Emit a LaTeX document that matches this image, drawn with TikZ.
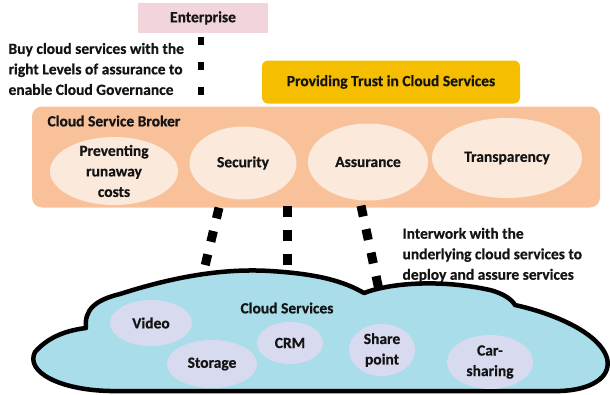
\documentclass[tikz,border=0pt]{standalone}
\usepackage{fontspec}
\setmainfont{Carlito}[BoldFeatures={FakeBold=0.6}]
\usetikzlibrary{calc,shapes.geometric}
\definecolor{entpink}{HTML}{F2D5DB}
\definecolor{trustgold}{HTML}{F6BE00}
\definecolor{brokerpeach}{HTML}{F8C199}
\definecolor{brokercream}{HTML}{FBE9DC}
\definecolor{cloudblue}{HTML}{A9DDEA}
\definecolor{servlilac}{HTML}{D8DAF0}
\definecolor{inkdark}{HTML}{141414}

\begin{document}
\begin{tikzpicture}[x=1pt,y=-1pt,
  every node/.style={font=\bfseries\fontsize{15.5}{20.5}\selectfont, text=inkdark},
  brokeroval/.style={ellipse, fill=brokercream, inner sep=-6pt, align=center},
  servoval/.style={ellipse, fill=servlilac, inner sep=-6pt, align=center},
  squaredash/.style={line width=9pt, dash pattern=on 11pt off 13pt}]
  \useasboundingbox (0,0) rectangle (610,394);

  \node[fill=entpink, minimum width=130pt, minimum height=30pt] (enterprise) at (203,18) {Enterprise};
  \node[anchor=west, align=left] (buytext) at (5,69) {Buy cloud services with the\\right Levels of assurance to\\enable Cloud Governance};
  \coordinate (entend) at (201,96);
  \draw[squaredash, line width=6.5pt, dash pattern=on 8pt off 17pt] ([shift={(-2,4)}]enterprise.south) -- (entend);

  \node[fill=trustgold, rounded corners=6pt, minimum width=258pt, minimum height=43pt] (trust) at (391,82) {Providing Trust in Cloud Services};

  \node[fill=brokerpeach, rounded corners=10pt, minimum width=568pt, minimum height=101pt] (broker) at (316,157) {};
  \node[anchor=west] (brokerlabel) at (44,121) {Cloud Service Broker};
  \node[brokeroval, minimum width=128pt, minimum height=68pt] (prevent) at (114,171) {Preventing\\runaway\\costs};
  \node[brokeroval, minimum width=107pt, minimum height=73pt] (security) at (243,163) {Security};
  \node[brokeroval, minimum width=120pt, minimum height=77pt] (assurance) at (368,162) {Assurance};
  \node[brokeroval, minimum width=150pt, minimum height=80pt] (transparency) at (507,158) {Transparency};

  \draw[fill=cloudblue, line width=4.5pt, line join=round] (35,352)
    .. controls (50,335) and (70,330) .. (86,328)
    .. controls (84,310) and (95,300) .. (120,294)
    .. controls (170,278) and (220,268) .. (270,271)
    .. controls (320,274) and (345,282) .. (364,293)
    .. controls (390,283) and (440,279) .. (490,290)
    .. controls (505,294) and (512,300) .. (515,305)
    .. controls (560,315) and (600,335) .. (607,358)
    .. controls (612,378) and (590,390) .. (560,391)
    -- (110,391)
    .. controls (60,390) and (25,372) .. (35,352) -- cycle;
  \coordinate (cloudtop1) at (205,266);
  \coordinate (cloudtop2) at (287,266);
  \coordinate (cloudtop3) at (379,290);

  \draw[squaredash] ($(broker.south)+(-97,0)$) -- (cloudtop1);
  \draw[squaredash] ($(broker.south)+(-29,-2)$) -- (cloudtop2);
  \draw[squaredash] ($(broker.south)+(45,-2)$) -- (cloudtop3);

  \node[anchor=west, align=left] (interwork) at (399,255) {Interwork with the\\underlying cloud services to\\deploy and assure services};

  \node (cloudlabel) at (287,308) {Cloud Services};
  \node[servoval, minimum width=82pt, minimum height=46pt] (video) at (151,323) {Video};
  \node[servoval, minimum width=90pt, minimum height=48pt] (storage) at (212,364) {Storage};
  \node[servoval, minimum width=66pt, minimum height=42pt] (crm) at (290,343) {CRM};
  \node[servoval, minimum width=66pt, minimum height=52pt] (share) at (382,350) {Share\\point};
  \node[servoval, minimum width=86pt, minimum height=54pt] (carshare) at (490,362) {Car-\\sharing};
\end{tikzpicture}
\end{document}
